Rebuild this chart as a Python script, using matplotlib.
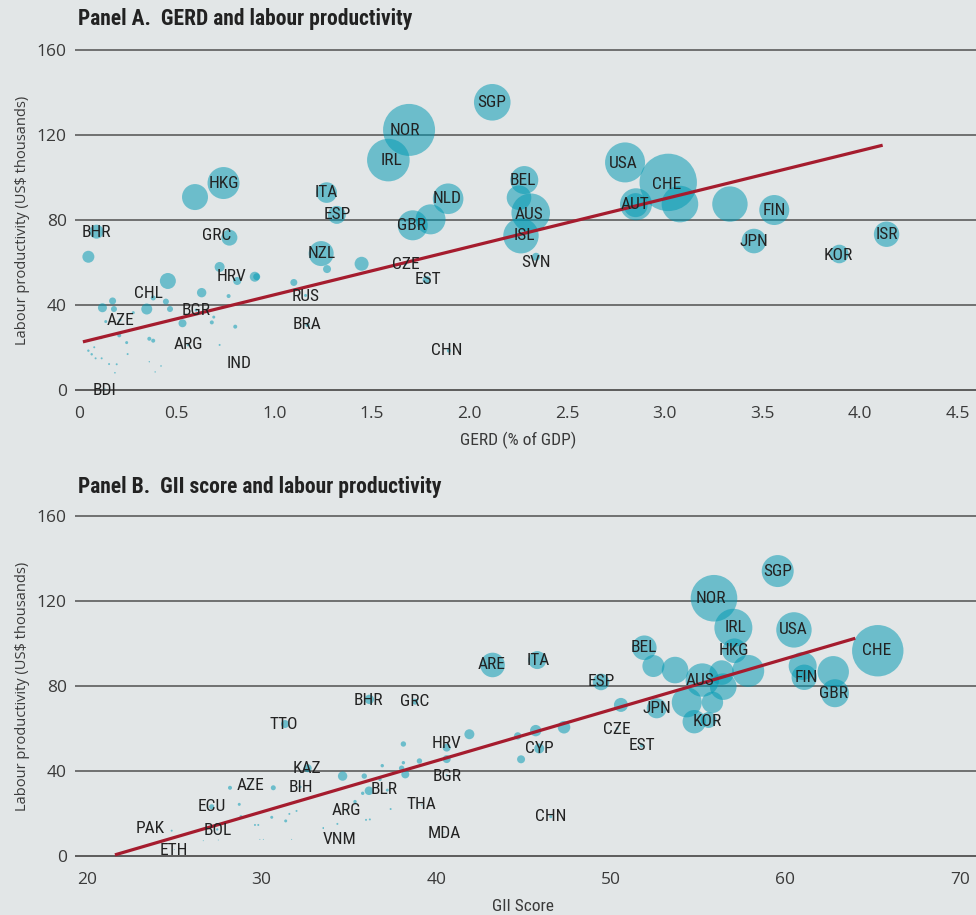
import matplotlib
matplotlib.use("Agg")
import matplotlib.pyplot as plt
from matplotlib import font_manager as fm
import numpy as np

# ---------------- Panel A data: GERD (% of GDP) vs labour productivity ----------------
a_gerd = [0.09, 0.048, 0.77, 0.74, 0.594, 1.24, 0.72, 0.81, 0.90, 0.91, 1.10, 1.16, 1.17,
          0.38, 0.455, 0.628, 0.445, 0.466, 0.347, 0.172, 0.179, 0.12, 0.21, 0.278, 0.137,
          0.60, 0.53, 0.69, 0.68, 0.766, 0.80, 0.206, 0.113, 0.244, 0.36, 0.38, 0.56, 0.249,
          0.72, 0.82, 0.048, 0.065, 0.085, 0.116, 0.154, 0.193, 0.184, 0.078, 0.36, 0.42,
          0.39, 0.133, 1.268, 1.32, 1.69, 1.584, 2.116, 1.89, 1.709, 1.80, 2.28, 2.253,
          2.313, 2.263, 2.34, 1.27, 1.447, 1.67, 1.78, 1.894, 2.796, 3.017, 2.852, 2.85,
          3.077, 3.333, 3.56, 3.456, 3.893, 4.135]
a_prod = [74.5, 62.7, 71.7, 97.4, 90.8, 64.2, 57.9, 51.3, 53.3, 53.3, 50.6, 44.5, 30.6,
          43.3, 51.3, 45.8, 41.6, 38.1, 38.1, 41.9, 38.1, 38.7, 33.0, 36.4, 32.2,
          37.6, 31.4, 34.3, 31.8, 44.2, 29.8, 25.7, 24.6, 22.3, 24.1, 23.2, 21.2, 16.9,
          21.2, 12.6, 18.5, 16.8, 14.9, 14.9, 12.2, 12.1, 8.1, 20.1, 13.3, 11.3,
          8.5, 0.5, 92.9, 82.4, 122.4, 108.2, 135.4, 90.0, 77.5, 80.3, 98.8, 90.5,
          83.4, 72.6, 62.7, 56.9, 59.4, 59.5, 51.8, 18.5, 107.1, 97.7, 87.4, 87.0,
          87.5, 87.5, 84.7, 70.1, 64.0, 73.3]
a_bubble = [7, 6, 8, 16, 13, 12.5, 5, 4, 5, 3.5, 3.5, 1.5, 2,
            2.5, 8, 4.7, 3, 3, 5.5, 3.5, 3, 4.5, 1.5, 1.5, 1.5,
            1.5, 4, 1.5, 2, 2, 2, 2, 1.5, 1.5, 2, 2, 1.5, 1,
            1, 1, 1.2, 1.2, 1, 1, 1, 1, 0.8, 1, 0.7, 0.8,
            0.7, 0.7, 10.3, 9, 26, 21.3, 18.3, 15.3, 15, 15, 14, 12.3,
            19.3, 17.7, 4, 4, 7, 2, 4, 2, 20, 28.7, 16, 12,
            18.3, 17.7, 15, 12.3, 9.3, 12.7]

a_names = ["BHR", "GRC", "HKG", "NZL", "HRV", "CHL", "AZE", "BGR", "ARG", "IND", "BDI",
           "RUS", "BRA", "ITA", "ESP", "NOR", "IRL", "SGP", "NLD", "GBR", "BEL", "AUS",
           "ISL", "SVN", "CZE", "EST", "CHN", "USA", "CHE", "AUT", "FIN", "JPN", "KOR", "ISR"]
a_label_x = [0.087, 0.705, 0.742, 1.243, 0.782, 0.358, 0.213, 0.599, 0.56, 0.821, 0.133,
             1.161, 1.167, 1.268, 1.32, 1.669, 1.598, 2.115, 1.884, 1.70, 2.273, 2.304,
             2.279, 2.34, 1.673, 1.789, 1.883, 2.786, 3.011, 2.847, 3.559, 3.456, 3.886, 4.137]
a_label_y = [73.9, 72.9, 97.4, 64.0, 53.3, 45.6, 32.9, 37.6, 21.2, 12.6, -0.3,
             44.2, 30.6, 92.9, 82.4, 121.9, 107.8, 135.5, 89.9, 77.6, 98.8, 82.8,
             72.5, 60.2, 59.2, 51.8, 18.4, 106.8, 96.9, 87.1, 84.7, 70.1, 63.5, 73.4]
a_fit = (22.2, 22.6)          # intercept, slope
a_fit_range = (0.02, 4.115)

# ---------------- Panel B data: GII score vs labour productivity ----------------
b_gii = [31.34, 32.64, 28.19, 30.67, 29.3, 32.2, 27.14, 28.72, 28.82, 30.58, 31.38, 31.59,
         32.0, 29.62, 29.81, 24.85, 27.46, 25.0, 26.66, 27.52, 29.9, 30.1, 31.72, 33.53,
         43.23, 45.79, 36.17, 38.79, 49.44, 50.58, 47.32, 45.7, 44.67, 44.86, 45.9, 41.9,
         40.6, 40.6, 38.12, 39.04, 38.12, 38.02, 38.23, 36.91, 35.88, 34.64, 36.78, 36.15,
         37.2, 35.79, 40.6, 34.87, 35.35, 37.39, 35.98, 36.2, 34.34, 33.53, 34.49, 39.17,
         40.45, 46.56, 50.37, 51.77, 59.56, 55.91, 57.02, 60.49, 65.29, 57.08, 51.92, 52.44,
         53.68, 55.24, 56.35, 56.44, 57.87, 54.35, 55.82, 54.78, 55.6, 52.63, 60.99, 61.08,
         62.74, 62.84]
b_prod = [62.1, 41.3, 32.1, 32.1, 33.0, 32.5, 23.2, 24.3, 18.5, 18.2, 16.5, 19.8,
          21.2, 14.6, 14.6, 11.9, 12.5, 3.0, 7.2, 7.5, 7.8, 7.8, 7.8, 13.3,
          89.9, 92.2, 73.7, 72.6, 81.9, 71.1, 60.6, 59.0, 56.5, 45.5, 50.6, 57.3,
          51.0, 45.6, 52.7, 44.7, 43.9, 41.3, 38.4, 42.5, 37.6, 37.6, 36.1, 30.7,
          31.0, 29.5, 38.0, 21.5, 25.6, 22.1, 17.0, 17.2, 15.1, 13.0, 9.0, 24.0,
          11.0, 18.5, 60.0, 52.0, 134.1, 121.3, 107.4, 106.4, 96.6, 96.6, 98.0, 89.4,
          87.5, 82.8, 86.3, 79.7, 87.1, 72.3, 72.3, 63.2, 64.0, 69.5, 89.4, 84.1,
          86.7, 76.6]
b_bubble = [4, 4, 2, 2.5, 1, 1.5, 2.5, 1.5, 1.5, 1.5, 1.5, 1,
            1, 1, 1, 1, 1.2, 0.5, 0.5, 0.5, 0.5, 0.5, 0.5, 0.7,
            12.3, 9, 4.7, 3, 8.3, 7, 6.3, 5.7, 3.7, 4, 5, 5,
            4, 4, 2.7, 2.7, 1.7, 2.7, 4, 1.7, 2.7, 4.7, 1.7, 4.3,
            1.5, 1.7, 1, 1, 1.7, 1, 1, 1, 1, 0.7, 0.5, 0.7,
            0.5, 1.5, 1.5, 2, 16, 23.3, 19, 17.7, 25.7, 12.3, 12.3, 11,
            13.3, 16.7, 12.3, 13.3, 16, 15, 10.7, 11.7, 8, 10, 14, 12.7,
            15.7, 14]

b_names = ["TTO", "KAZ", "AZE", "BIH", "ECU", "PAK", "BOL", "ETH", "BHR", "GRC", "ARE",
           "ITA", "ESP", "HRV", "CYP", "BGR", "BLR", "ARG", "THA", "VNM", "MDA", "CHN",
           "CZE", "EST", "BEL", "JPN", "AUS", "KOR", "HKG", "IRL", "NOR", "SGP", "USA",
           "FIN", "GBR", "CHE"]
b_label_x = [31.28, 32.58, 29.34, 32.26, 27.14, 23.6, 27.46, 25.0, 36.11, 38.75, 43.2,
             45.83, 49.44, 40.6, 45.9, 40.6, 37.0, 34.87, 39.17, 34.49, 40.45, 46.56,
             50.37, 51.77, 51.9, 52.63, 55.11, 55.51, 57.06, 57.17, 55.74, 59.56, 60.45,
             61.18, 62.78, 65.23]
b_label_y = [62.1, 41.1, 33.4, 32.0, 23.2, 13.0, 11.8, 2.8, 73.4, 72.6, 89.9,
             91.8, 81.9, 53.0, 50.7, 37.6, 31.4, 21.6, 24.0, 7.9, 10.7, 18.5,
             59.3, 51.9, 97.9, 69.5, 82.8, 63.2, 96.6, 107.4, 121.3, 134.1, 106.4,
             84.1, 76.6, 96.6]
b_fit = (-51.4, 2.404)
b_fit_range = (21.6, 64.0)

y_ticks = [0, 40, 80, 120, 160]
a_xticks = [0, 0.5, 1.0, 1.5, 2.0, 2.5, 3.0, 3.5, 4.0, 4.5]
a_xticklabels = ["0", "0.5", "1.0", "1.5", "2.0", "2.5", "3.0", "3.5", "4.0", "4.5"]
b_xticks = [20, 30, 40, 50, 60, 70]


# ---------------- fonts ----------------
def _is_condensed(f):
    st = f.stretch
    if isinstance(st, str):
        return "condensed" in st or "narrow" in st
    try:
        return float(st) < 500
    except Exception:
        return False


def _weight_num(w):
    if isinstance(w, (int, float)):
        return w
    return {"ultralight": 200, "light": 300, "normal": 400, "regular": 400, "book": 400,
            "medium": 500, "semibold": 600, "demibold": 600, "bold": 700, "heavy": 800,
            "extra bold": 800, "black": 900}.get(str(w).lower(), 400)


def pick_font(bold=False):
    cands = []
    for f in fm.fontManager.ttflist:
        fname = f.fname.lower()
        narrow = ("narrow" in fname or "condensed" in fname or "narrow" in f.name.lower()
                  or "condensed" in f.name.lower() or _is_condensed(f))
        if not narrow or f.style != "normal":
            continue
        w = _weight_num(f.weight)
        if bold and w < 600:
            continue
        if not bold and not (350 <= w <= 450):
            continue
        pref = 0
        nm = f.name.lower()
        if "liberation" in nm:
            pref = 5
        elif "roboto" in nm:
            pref = 4
        elif "open sans" in nm:
            pref = 3
        elif "noto" in nm:
            pref = 2
        elif "dejavu" in nm:
            pref = 1
        if "extra" in fname or "ultra" in fname:
            pref -= 0.5
        if "semi" in fname:
            pref -= 0.2
        cands.append((pref, f.fname))
    if cands:
        cands.sort(reverse=True)
        return fm.FontProperties(fname=cands[0][1])
    return fm.FontProperties(family=["Roboto", "DejaVu Sans"],
                             weight="bold" if bold else "normal")


COND = pick_font(False)
COND_B = pick_font(True)
REG = ["Open Sans", "DejaVu Sans"]


def fp(base, size):
    p = base.copy()
    p.set_size(size)
    return p


BG = "#e2e6e7"
BUBBLE = (0.0, 0.60, 0.70)
ALPHA = 0.52
LINE = "#a51c2e"
GRID = "#5c5c5c"
TXT = "#222222"
TICK = "#3a3a3a"

W, H = 976, 915
fig = plt.figure(figsize=(W / 100, H / 100), dpi=100, facecolor=BG)


def px_axes(left, right, top, bottom):
    return [left / W, 1 - bottom / H, (right - left) / W, (bottom - top) / H]


def bubble_s(r):
    return (2 * np.asarray(r) * 72 / 100) ** 2


def draw_panel(ax, xs, ys, rs, names, lx, ly, fit, fit_range, xticks, xticklabels, xlim):
    ax.set_facecolor(BG)
    for s in ax.spines.values():
        s.set_visible(False)
    ax.set_xlim(*xlim)
    ax.set_ylim(-5, 165)
    for yv in y_ticks:
        ax.axhline(yv, color=GRID, lw=1.4 if yv == 0 else 1.2, zorder=1)
    ax.scatter(xs, ys, s=bubble_s(rs), color=BUBBLE, alpha=ALPHA, lw=0, zorder=2)
    fx = np.array(fit_range)
    ax.plot(fx, fit[0] + fit[1] * fx, color=LINE, lw=2.3, zorder=3, solid_capstyle="butt")
    for n, x, y in zip(names, lx, ly):
        ax.text(x, y, n, ha="center", va="center", fontproperties=fp(COND, 12.5),
                color=TXT, zorder=4)
    ax.set_yticks(y_ticks)
    ax.set_yticklabels([str(v) for v in y_ticks], family=REG, fontsize=12.5, color=TICK)
    ax.set_xticks(xticks)
    ax.set_xticklabels(xticklabels, family=REG, fontsize=12.5, color=TICK)
    ax.tick_params(axis="both", length=0)
    ax.tick_params(axis="y", pad=6)
    ax.tick_params(axis="x", pad=4)
    ax.set_ylabel("Labour productivity (US$ thousands)", family=REG, fontsize=10.5,
                  color=TICK)
    ax.yaxis.set_label_coords(-(75 - 30) / (976 - 75), 0.5)


# Panel A
axA = fig.add_axes(px_axes(75, 976, 39.4, 400.6))
draw_panel(axA, a_gerd, a_prod, a_bubble, a_names, a_label_x, a_label_y, a_fit, a_fit_range,
           a_xticks, a_xticklabels, (-4 / 195.3, (976 - 79) / 195.3))
axA.text(2.25, -23.5, "GERD (% of GDP)", ha="center", va="center",
         fontproperties=fp(COND, 12.5), color=TICK)

# Panel B
axB = fig.add_axes(px_axes(75, 976, 505.4, 866.6))
draw_panel(axB, b_gii, b_prod, b_bubble, b_names, b_label_x, b_label_y, b_fit, b_fit_range,
           b_xticks, [str(v) for v in b_xticks],
           (20 - 12 / 17.46, 20 + (976 - 87) / 17.46))
axB.text(45, -24, "GII Score", ha="center", va="center",
         fontproperties=fp(COND, 12.5), color=TICK)

fig.text(78 / W, 1 - 19 / H, "Panel A.  GERD and labour productivity", ha="left",
         va="center", fontproperties=fp(COND_B, 15.5), color=TXT)
fig.text(78 / W, 1 - 487 / H, "Panel B.  GII score and labour productivity", ha="left",
         va="center", fontproperties=fp(COND_B, 15.5), color=TXT)

fig.savefig("out.png", dpi=100, facecolor=BG)
